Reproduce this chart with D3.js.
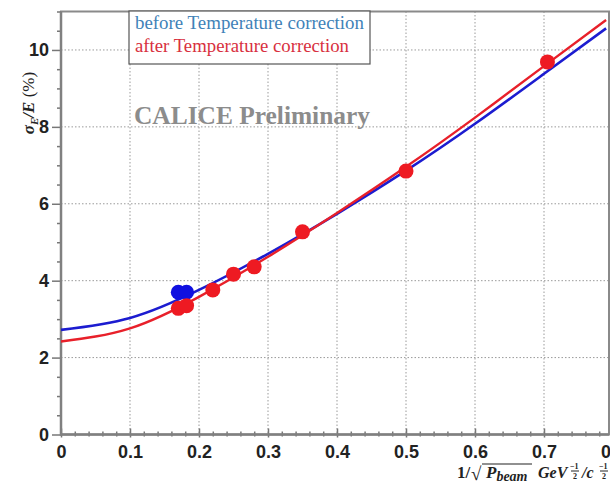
<!DOCTYPE html>
<html><head><meta charset="utf-8">
<script src="https://cdn.jsdelivr.net/npm/d3@7"></script>
<style>body{margin:0;background:#fff}svg{display:block}</style>
</head><body>
<svg id="c" width="610" height="490"></svg>
<script>
// Data
const xTicks = [0, 0.1, 0.2, 0.3, 0.4, 0.5, 0.6, 0.7, 0.8];
const yTicks = [0, 2, 4, 6, 8, 10];
const beforeX = [0.170, 0.182];
const beforeY = [3.70, 3.70];
const afterX = [0.170, 0.182, 0.220, 0.250, 0.280, 0.350, 0.500, 0.705];
const afterY = [3.28, 3.35, 3.76, 4.17, 4.36, 5.27, 6.85, 9.69];
const fitX = [0, 0.1, 0.2, 0.3, 0.4, 0.5, 0.6, 0.7, 0.79];
const fitBefore = [2.72, 3.03, 3.76, 4.70, 5.74, 6.86, 8.08, 9.38, 10.56];
const fitAfter  = [2.42, 2.76, 3.58, 4.62, 5.76, 6.96, 8.24, 9.58, 10.78];
const legendLabels = ["before Temperature correction", "after Temperature correction"];

const svg = d3.select("#c");
const x = d3.scaleLinear().domain([0, 0.8]).range([61, 613]);
const y = d3.scaleLinear().domain([0, 11]).range([434.5, 11.5]);
const L = 61, R = 609, T = 11.5, B = 434.5;

// grid
const grid = svg.append("g").attr("stroke", "#9a9a9a").attr("stroke-width", 1).attr("stroke-dasharray", "1.5,2");
xTicks.filter(d => d > 0 && x(d) < R).forEach(d => grid.append("line").attr("x1", x(d)).attr("x2", x(d)).attr("y1", T).attr("y2", B));
yTicks.filter(d => d > 0).forEach(d => grid.append("line").attr("x1", L).attr("x2", R).attr("y1", y(d)).attr("y2", y(d)));

// frame
svg.append("rect").attr("x", L).attr("y", T).attr("width", R - L).attr("height", B - T)
  .attr("fill", "none").attr("stroke", "#8a8a8a").attr("stroke-width", 2);

// y axis
const yAx = svg.append("g").attr("transform", `translate(${L},0)`)
  .call(d3.axisLeft(y).tickValues(yTicks).tickSize(9).tickPadding(3).tickFormat(d3.format("d")));
yAx.select(".domain").remove();
svg.append("g").attr("transform", `translate(${L},0)`)
  .call(d3.axisLeft(y).tickValues(d3.range(0, 11.01, 0.5).filter(v => v % 2 !== 0)).tickSize(4).tickFormat(""))
  .select(".domain").remove();

// x axis
const xAx = svg.append("g").attr("transform", `translate(0,${B})`)
  .call(d3.axisBottom(x).tickValues(xTicks).tickSize(6).tickPadding(5).tickFormat(d => d === 0 ? "0" : d3.format(".1f")(d)));
xAx.select(".domain").remove();
xAx.selectAll(".tick line").attr("y1", -6).attr("y2", 3);
const xm = svg.append("g").attr("transform", `translate(0,${B})`)
  .call(d3.axisBottom(x).tickValues(d3.range(0, 0.8, 0.02).filter(v => Math.abs(v * 10 - Math.round(v * 10)) > 1e-6)).tickSize(3).tickFormat(""));
xm.select(".domain").remove();
xm.selectAll(".tick line").attr("y1", -3).attr("y2", 2);

svg.selectAll(".tick line").attr("stroke", "#777").attr("stroke-width", 1.5);
svg.selectAll(".tick text").attr("font-family", "Liberation Sans, Arial, sans-serif")
  .attr("font-weight", "bold").attr("font-size", 18).attr("fill", "#222");

// axis lines
svg.append("line").attr("x1", L).attr("x2", L).attr("y1", T).attr("y2", B + 1).attr("stroke", "#808080").attr("stroke-width", 2.5);
svg.append("line").attr("x1", L).attr("x2", R).attr("y1", B).attr("y2", B).attr("stroke", "#808080").attr("stroke-width", 2.5);

// fit curves
const lineGen = vals => d3.line().x((d, i) => x(fitX[i])).y(d => y(d)).curve(d3.curveNatural)(vals);
svg.append("path").attr("d", lineGen(fitBefore)).attr("fill", "none").attr("stroke", "#1c1cd0").attr("stroke-width", 2.6);
svg.append("path").attr("d", lineGen(fitAfter)).attr("fill", "none").attr("stroke", "#e8202a").attr("stroke-width", 2.4);

// points
svg.append("g").selectAll("circle").data(beforeX).join("circle")
  .attr("cx", d => x(d)).attr("cy", (d, i) => y(beforeY[i])).attr("r", 7.5).attr("fill", "#1010e0");
svg.append("g").selectAll("circle").data(afterX).join("circle")
  .attr("cx", d => x(d)).attr("cy", (d, i) => y(afterY[i])).attr("r", 7.5).attr("fill", "#ee1a22");

// legend
svg.append("rect").attr("x", 129).attr("y", 11).attr("width", 241).attr("height", 53)
  .attr("fill", "#fff").attr("stroke", "#555").attr("stroke-width", 1.2);
const legColors = ["#3f82b8", "#d83040"];
legendLabels.forEach((t, i) => svg.append("text").attr("x", 135).attr("y", 29 + i * 23)
  .attr("font-family", "Liberation Serif, Times New Roman, serif").attr("font-size", 18.5)
  .attr("textLength", i === 0 ? 229 : 214).attr("lengthAdjust", "spacingAndGlyphs")
  .attr("fill", legColors[i]).text(t));

// watermark
svg.append("text").attr("x", 134).attr("y", 124).attr("font-family", "Liberation Serif, serif")
  .attr("font-weight", "bold").attr("font-size", 25).attr("fill", "#8c8c8c")
  .attr("textLength", 236).attr("lengthAdjust", "spacingAndGlyphs").text("CALICE Preliminary");

// y label
const yl = svg.append("text").attr("transform", "translate(34,103) rotate(-90)").attr("text-anchor", "middle")
  .attr("font-family", "Liberation Serif, serif").attr("font-size", 17).attr("fill", "#222");
yl.append("tspan").attr("font-weight", "bold").attr("font-style", "italic").text("σ");
yl.append("tspan").attr("font-weight", "bold").attr("font-style", "italic").attr("font-size", 11).attr("dy", 4).text("E");
yl.append("tspan").attr("font-weight", "bold").attr("font-style", "italic").attr("dy", -4).text("/E ");
yl.append("tspan").text("(%)");

// x label
const xl = svg.append("g").attr("font-family", "Liberation Serif, serif").attr("fill", "#222").attr("font-weight", "bold");
xl.append("text").attr("x", 457).attr("y", 478).attr("font-size", 17).text("1/");
xl.append("text").attr("x", 471).attr("y", 480).attr("font-size", 19).attr("font-weight", "normal").text("√");
xl.append("line").attr("x1", 482).attr("x2", 532).attr("y1", 464).attr("y2", 464).attr("stroke", "#222").attr("stroke-width", 1.2);
const pb = xl.append("text").attr("x", 486).attr("y", 478).attr("font-size", 17).attr("font-style", "italic");
pb.append("tspan").text("P");
pb.append("tspan").attr("font-size", 14).attr("dy", 3).text("beam");
xl.append("text").attr("x", 538).attr("y", 478).attr("font-size", 16).attr("font-style", "italic").text("GeV");
xl.append("text").attr("x", 570).attr("y", 469).attr("font-size", 8).text("−1");
xl.append("line").attr("x1", 571).attr("x2", 579).attr("y1", 471).attr("y2", 471).attr("stroke", "#222");
xl.append("text").attr("x", 573).attr("y", 479).attr("font-size", 8).text("2");
xl.append("text").attr("x", 582).attr("y", 478).attr("font-size", 16).attr("font-style", "italic").text("/c");
xl.append("text").attr("x", 599).attr("y", 469).attr("font-size", 8).text("−1");
xl.append("line").attr("x1", 600).attr("x2", 608).attr("y1", 471).attr("y2", 471).attr("stroke", "#222");
xl.append("text").attr("x", 602).attr("y", 479).attr("font-size", 8).text("2");
</script>
</body></html>
